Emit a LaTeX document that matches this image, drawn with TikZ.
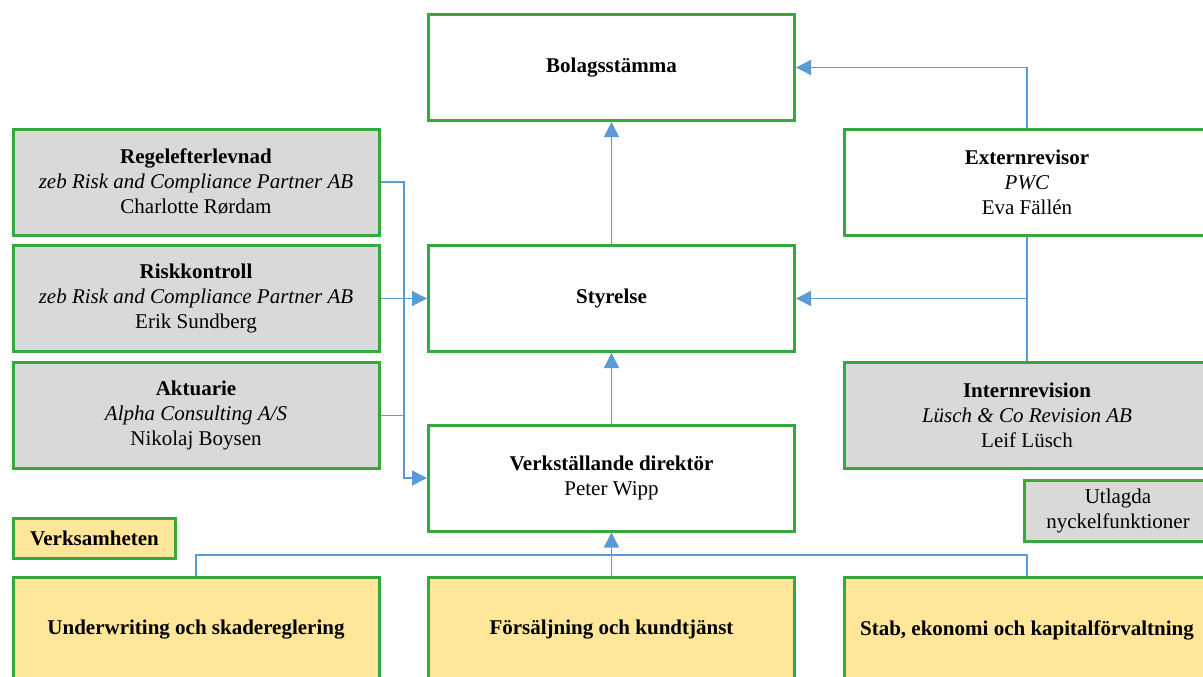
\documentclass[tikz,border=0pt]{standalone}
\usepackage{fontspec}
\setmainfont{Liberation Serif}
\usetikzlibrary{arrows.meta,calc}

\definecolor{boxgreen}{RGB}{55,168,62}
\definecolor{boxgray}{RGB}{217,217,217}
\definecolor{boxyellow}{RGB}{255,230,153}
\definecolor{linkblue}{RGB}{91,155,213}

\begin{document}
\begin{tikzpicture}[x=1pt, y=-1pt, line cap=butt, line join=miter,
    orgbox/.style={draw=boxgreen, line width=3pt, rectangle, align=center,
        minimum width=366pt, minimum height=106pt, inner sep=2pt,
        font=\fontsize{21}{25}\selectfont},
    keybox/.style={orgbox, fill=boxgray},
    unitbox/.style={orgbox, fill=boxyellow},
    link/.style={draw=linkblue, line width=1.6pt},
    linkarrow/.style={link, -{Triangle[length=15pt, width=15pt]}}]

    \useasboundingbox (0,0) rectangle (1203,677);
    \clip (0,0) rectangle (1203,677);

    % --- 1. Governance column ---
    \node[orgbox] (bolag) at (611.5,67.5) {\textbf{Bolagsstämma}};
    \node[orgbox] (styrelse) at (611.5,298.5) {\textbf{Styrelse}};
    \node[orgbox] (vd) at (611.5,478) {\textbf{Verkställande direktör}\\Peter Wipp};

    % --- 2. Key functions (left) ---
    \node[keybox] (regel) at (196,182) {\textbf{Regelefterlevnad}\\\textit{zeb Risk and Compliance Partner AB}\\Charlotte Rørdam};
    \node[keybox] (risk) at (196,298.5) {\textbf{Riskkontroll}\\\textit{zeb Risk and Compliance Partner AB}\\Erik Sundberg};
    \node[keybox] (akt) at (196,415.5) {\textbf{Aktuarie}\\\textit{Alpha Consulting A/S}\\Nikolaj Boysen};

    % --- 3. Audit (right) ---
    \node[orgbox] (extern) at (1027,182) {\textbf{Externrevisor}\\\textit{PWC}\\Eva Fällén};
    \node[keybox] (intern) at (1027,415.5) {\textbf{Internrevision}\\\textit{Lüsch \& Co Revision AB}\\Leif Lüsch};
    \node[keybox, minimum width=187pt, minimum height=61pt] (utlagda) at (1118,511) {Utlagda\\nyckelfunktioner};

    % --- 4. Business units ---
    \node[unitbox, minimum width=162pt, minimum height=40pt] (verks) at (94.5,538.5) {\textbf{Verksamheten}};
    \node[unitbox] (uw) at (196,630) {\textbf{Underwriting och skadereglering}};
    \node[unitbox] (fors) at (611.5,630) {\textbf{Försäljning och kundtjänst}};
    \node[unitbox] (stab) at (1027,630) {\textbf{Stab, ekonomi och kapitalförvaltning}};

    % --- 5. Connectors ---
    \coordinate (lbus) at (404,0);
    \coordinate (rjoin) at (1027,298.5);
    \coordinate (bbus) at (0,555);

    \draw[linkarrow] (styrelse.north) -- (bolag.south);
    \draw[linkarrow] (vd.north) -- (styrelse.south);
    \draw[linkarrow] (fors.north) -- (vd.south);

    \draw[linkarrow] (regel.east) -| (lbus |- vd.west) -- (vd.west);
    \draw[linkarrow] (risk.east) -- (styrelse.west);
    \draw[link] (akt.east) -- (lbus |- akt.east);

    \draw[linkarrow] (extern.north) |- (bolag.east);
    \draw[link] (extern.south) -- (intern.north);
    \draw[linkarrow] (rjoin) -- (styrelse.east);

    \draw[link] (uw.north) |- (bbus -| stab.north) -- (stab.north);
\end{tikzpicture}
\end{document}
